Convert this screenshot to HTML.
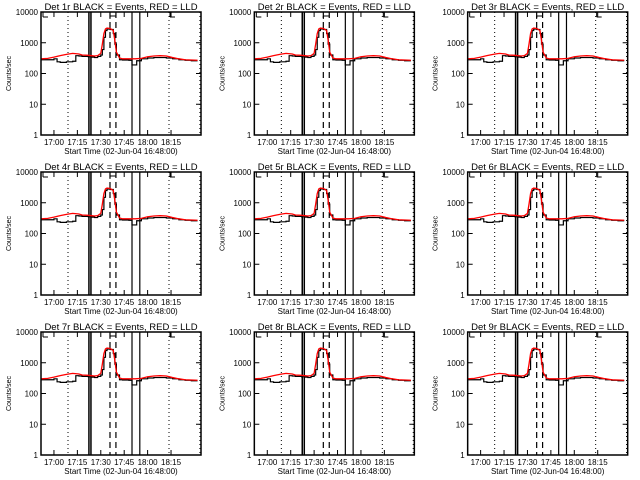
<!DOCTYPE html>
<html><head><meta charset="utf-8">
<style>
html,body{margin:0;padding:0;background:#fff;}
svg{display:block;}
text{font-family:"Liberation Sans",sans-serif;fill:#000;}
</style></head>
<body>
<svg id="chart" width="640" height="480" viewBox="0 0 640 480" xmlns="http://www.w3.org/2000/svg"></svg>
<script>
// Data (time in minutes after 16:48:00)
const detectors = ["1r","2r","3r","4r","5r","6r","7r","8r","9r"];
const redTimes = [4,8,12,16,20,24,28,30,34,36,38,40,42,43,44,45,46,48,50,51,52,54,56,58,60,64,68,72,76,80,84,88,92,96,100,104];
const redValues = [300,310,340,380,420,450,430,400,390,380,370,380,450,900,2000,2800,3000,2900,2500,1200,500,320,300,300,300,300,310,350,370,380,370,330,300,280,275,270];
const blackTimes = [4,8,12,14,16,20,24,26,28,30,34,36,38,40,42,43,44,45,46,48,50,51,52,54,56,58,60,62,64,65,68,72,76,80,84,88,92,96,100,104];
const blackValues = [280,280,300,240,230,240,250,380,370,360,350,340,330,360,400,600,1500,2500,2800,2700,2000,900,400,280,275,275,270,190,190,260,300,320,330,330,320,300,280,270,260,260];
const xTickLabels = ["17:00","17:15","17:30","17:45","18:00","18:15"];
const xTickMinutes = [12,27,42,57,72,87];
const yTickValues = [1,10,100,1000,10000];
const yTickLabels = ["1","10","100","1000","10000"];
const solidLines = [34.4,35.7,62,67];
const dashedLines = [47.9,51.7];
const dottedLines = [21,85.7,105.5];

const NS="http://www.w3.org/2000/svg";
const svg=document.getElementById('chart');
function mk(tag,attrs,parent){const e=document.createElementNS(NS,tag);for(const k in attrs)e.setAttribute(k,attrs[k]);parent.appendChild(e);return e;}

const PW=640/3, PH=160;
const L=41,R=201,T=12,B=135;
const xMin=3.7,xMax=106.2;

detectors.forEach((det,i)=>{
  const ox=(i%3)*PW, oy=Math.floor(i/3)*PH;
  const g=mk('g',{transform:`translate(${ox.toFixed(2)},${oy})`},svg);
  
  
  const xs=m=>L+(m-xMin)/(xMax-xMin)*(R-L);
  const ys=v=>B-Math.log10(v)/4*(B-T);

  dottedLines.forEach(m=>{const l=mk('line',{x1:xs(m),x2:xs(m),y1:T,y2:B,stroke:'#000','stroke-width':1,'stroke-dasharray':'1,3'},g);
    });
  dashedLines.forEach(m=>{const l=mk('line',{x1:xs(m),x2:xs(m),y1:T,y2:B,stroke:'#000','stroke-width':1.2,'stroke-dasharray':'6,4'},g);
    });
  solidLines.forEach((m,j)=>{const l=mk('line',{x1:xs(m),x2:xs(m),y1:T,y2:B,stroke:'#000','stroke-width':j<2?1.5:1.2},g);
    });

  const br=mk('path',{d:`M${L+2},${T+5} V${T} M${L+2},${T+5} H${L+7} M${xs(85.7)+1},${T+5} V${T} M${xs(85.7)+1},${T+5} H${xs(85.7)+6} M${xs(47.9)},${T+4} H${xs(51.7)} M${xs(47.9)},${T+4} V${T+7}`,stroke:'#000','stroke-width':1,fill:'none'},g);
  

  const step=(ts,vs)=>{let d='';ts.forEach((t,k)=>{const x=xs(t),y=ys(vs[k]);if(k===0)d+=`M${x},${y}`;else d+=` H${x} V${y}`;});return d;};
  const bl=mk('path',{d:step(blackTimes,blackValues),stroke:'#000','stroke-width':1.2,fill:'none'},g);
  
  const rl=mk('path',{d:redTimes.map((t,k)=>(k?'L':'M')+xs(t)+','+ys(redValues[k])).join(' '),stroke:'#ff0000','stroke-width':1.3,fill:'none'},g);
  

  const fr=mk('rect',{x:L,y:T,width:R-L,height:B-T,fill:'none',stroke:'#000','stroke-width':1.5},g);
  

  yTickValues.forEach((v,k)=>{const y=ys(v);
    mk('line',{x1:L,x2:L+5,y1:y,y2:y,stroke:'#000','stroke-width':1},g);
    mk('line',{x1:R-5,x2:R,y1:y,y2:y,stroke:'#000','stroke-width':1},g);
    const t=mk('text',{x:L-3,y:y+3,'font-size':8,'text-anchor':'end'},g);t.textContent=yTickLabels[k];
    });
  xTickMinutes.forEach((m,k)=>{const x=xs(m);
    mk('line',{x1:x,x2:x,y1:B,y2:B-5,stroke:'#000','stroke-width':1},g);
    mk('line',{x1:x,x2:x,y1:T,y2:T+5,stroke:'#000','stroke-width':1},g);
    const t=mk('text',{x:x,y:B+10,'font-size':8,'text-anchor':'middle'},g);t.textContent=xTickLabels[k];
    });

  const ti=mk('text',{x:(L+R)/2,y:T-2,'font-size':9.5,'text-anchor':'middle'},g);
  ti.textContent=`Det ${det} BLACK = Events, RED = LLD`;
  
  const xt=mk('text',{x:(L+R)/2,y:B+19,'font-size':8,'text-anchor':'middle'},g);
  xt.textContent='Start Time (02-Jun-04 16:48:00)';
  
  const yt=mk('text',{x:0,y:0,'font-size':7,'text-anchor':'middle',transform:`translate(11,${(T+B)/2}) rotate(-90)`},g);
  yt.textContent='Counts/sec';
  
});
</script>
</body></html>
